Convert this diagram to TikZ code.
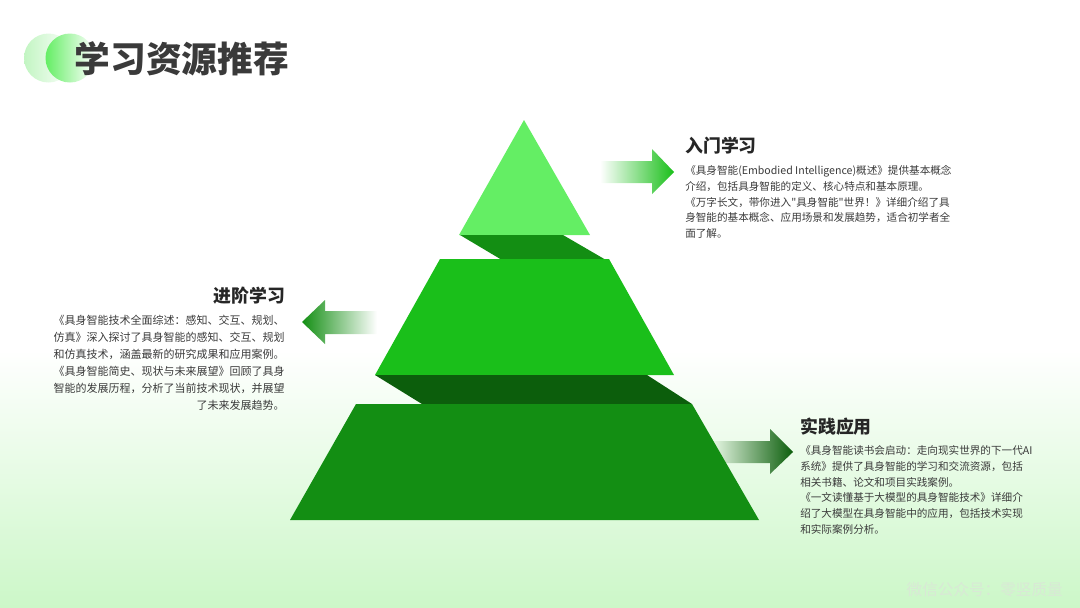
\documentclass[tikz,border=0pt]{standalone}
\usepackage{fontspec}
\setmainfont{Noto Sans CJK SC}
\newfontfamily\quotefont{Noto Sans CJK SC}
\def\plainquote{{\quotefont\symbol{34}}}
\definecolor{apexgreen}{HTML}{64EE64}
\definecolor{midgreen}{HTML}{1ABF1A}
\definecolor{basegreen}{HTML}{138E13}
\definecolor{darkgreen}{HTML}{0C5E0C}
\definecolor{inkgrey}{HTML}{3A3A3A}
\definecolor{floorgreen}{HTML}{CCF7C8}
\definecolor{palegreen}{HTML}{C2F5C2}
\definecolor{tailgreen}{HTML}{E9F9E6}
\definecolor{markgrey}{HTML}{D9E8D6}
\tikzset{
	headtext/.style={inner sep=0pt, text=black!85, font=\fontsize{13.4}{16}\selectfont\bfseries},
	bodytext/.style={inner sep=0pt, text=inkgrey, font=\fontsize{7.95}{11.8}\selectfont},
}

\begin{document}
\begin{tikzpicture}[x=0.75pt, y=-0.75pt]
		%%%%% START %%%%%
		\useasboundingbox (0, 0) rectangle (1080, 607);
		\shade[top color=white, bottom color=floorgreen] (0, 350) rectangle (1080, 607);
		
		\shade[left color=palegreen, right color=white] (48.5, 58) circle (24.5);
		\shade[left color=apexgreen, right color=white] (70, 58) circle (24.5);
		\node[anchor=west, inner sep=0pt, text=inkgrey, font=\fontsize{26.8}{30}\selectfont\bfseries] (title) at (74.5, 59) {学习资源推荐};
		
		\shade[left color=tailgreen, right color=darkgreen] (712, 441) -- (770, 441) -- (770, 429) -- (793, 452) -- (770, 474) -- (770, 463) -- (712, 463) -- cycle;
		
		\fill[apexgreen] (524, 120) -- (590, 235) -- (459, 235) -- cycle;
		\fill[basegreen] (460, 235) -- (563, 235) -- (606, 260) -- (502, 260) -- cycle;
		\fill[midgreen] (440, 259) -- (609, 259) -- (674, 375) -- (375, 375) -- cycle;
		\fill[darkgreen] (375, 375) -- (647, 375) -- (692, 404) -- (422, 404) -- cycle;
		\fill[basegreen] (356, 404) -- (692, 404) -- (759, 520) -- (290, 520) -- cycle;
		
		\shade[left color=white, right color=midgreen] (600, 161) -- (652, 161) -- (652, 149) -- (674, 172) -- (652, 194) -- (652, 183) -- (600, 183) -- cycle;
		\shade[left color=basegreen, right color=white] (302, 322) -- (325, 300) -- (325, 311) -- (377, 311) -- (377, 334) -- (325, 334) -- (325, 344) -- cycle;
		
		\node[headtext, anchor=west] (entryhead) at (685, 146) {入门学习};
		\node[bodytext, anchor=west, align=left] (entrybody) at (685, 202) {《具身智能(Embodied Intelligence)概述》提供基本概念\\介绍，包括具身智能的定义、核心特点和基本原理。\\《万字长文，带你进入\plainquote 具身智能\plainquote 世界！》详细介绍了具\\身智能的基本概念、应用场景和发展趋势，适合初学者全\\面了解。};
		
		\node[headtext, anchor=east] (advancedhead) at (285.5, 296) {进阶学习};
		\node[bodytext, anchor=east, align=right, font=\fontsize{8.25}{12.7}\selectfont] (advancedbody) at (285, 363) {《具身智能技术全面综述：感知、交互、规划、\\仿真》深入探讨了具身智能的感知、交互、规划\\和仿真技术，涵盖最新的研究成果和应用案例。\\《具身智能简史、现状与未来展望》回顾了具身\\智能的发展历程，分析了当前技术现状，并展望\\了未来发展趋势。};
		
		\node[headtext, anchor=west] (practicehead) at (800, 427) {实践应用};
		\node[bodytext, anchor=west, align=left] (practicebody) at (800, 490) {《具身智能读书会启动：走向现实世界的下一代AI\\系统》提供了具身智能的学习和交流资源，包括\\相关书籍、论文和项目实践案例。\\《一文读懂基于大模型的具身智能技术》详细介\\绍了大模型在具身智能中的应用，包括技术实现\\和实际案例分析。};
		
		\node[anchor=east, inner sep=0pt, text=markgrey, font=\fontsize{11.7}{14}\selectfont] (mark) at (1063, 590) {微信公众号：零竖质量};
		%%%%% END %%%%%
	\end{tikzpicture}
\end{document}
